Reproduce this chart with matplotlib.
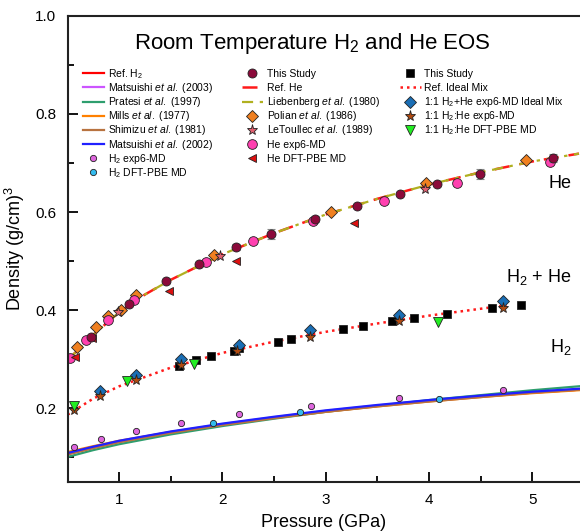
import numpy as np
import matplotlib
matplotlib.use("Agg")
import matplotlib.pyplot as plt
from matplotlib.legend import Legend

plt.rcParams['font.family'] = ['Liberation Sans', 'DejaVu Sans']
plt.rcParams['mathtext.fontset'] = 'custom'
plt.rcParams['mathtext.rm'] = 'Liberation Sans'
plt.rcParams['mathtext.it'] = 'Liberation Sans:italic'

# ---- H2 reference curves (pressure GPa, density g/cm^3) ----
p_line = [0.5, 0.75, 1.0, 1.5, 2.0, 2.5, 3.0, 3.5, 4.0, 4.5, 5.0, 5.45]
h2_ref = [0.107, 0.120, 0.132, 0.151, 0.167, 0.181, 0.194, 0.205, 0.215, 0.224, 0.232, 0.238]
h2_mats03 = [0.108, 0.121, 0.133, 0.152, 0.168, 0.182, 0.195, 0.206, 0.216, 0.225, 0.233, 0.239]
h2_pratesi = [0.101, 0.115, 0.127, 0.147, 0.164, 0.179, 0.193, 0.205, 0.217, 0.227, 0.237, 0.245]
h2_mills = [0.111, 0.123, 0.134, 0.152, 0.167, 0.181, 0.193, 0.204, 0.214, 0.223, 0.231, 0.237]
h2_shimizu = [0.106, 0.119, 0.131, 0.150, 0.166, 0.180, 0.193, 0.204, 0.214, 0.223, 0.232, 0.238]
h2_mats02 = [0.109, 0.122, 0.134, 0.153, 0.169, 0.183, 0.196, 0.207, 0.217, 0.226, 0.234, 0.240]

# ---- He reference curves ----
p_he = [0.5, 0.75, 1.0, 1.25, 1.5, 2.0, 2.5, 3.0, 3.5, 4.0, 4.5, 5.0, 5.45]
he_ref = [0.298, 0.350, 0.396, 0.432, 0.462, 0.514, 0.557, 0.595, 0.627, 0.656, 0.681, 0.703, 0.719]
he_lieb = [0.298, 0.350, 0.396, 0.432, 0.462, 0.514, 0.557, 0.595, 0.627, 0.656, 0.681, 0.703, 0.719]

# ---- ideal mix reference ----
p_mix = [0.5, 0.75, 1.0, 1.5, 2.0, 2.5, 3.0, 3.5, 4.0, 4.5, 4.75]
mix_ref = [0.187, 0.220, 0.245, 0.283, 0.313, 0.336, 0.356, 0.373, 0.389, 0.403, 0.410]

# ---- He data ----
he_study_p = [0.73, 1.10, 1.45, 1.77, 2.13, 2.47, 2.90, 3.30, 3.72, 4.08, 4.49, 5.20]
he_study_d = [0.346, 0.413, 0.460, 0.494, 0.528, 0.556, 0.586, 0.612, 0.636, 0.657, 0.678, 0.710]
he_study_err = [0.0, 0.0, 0.0, 0.0, 0.006, 0.010, 0.006, 0.004, 0.0, 0.0, 0.010, 0.008]
polian_p = [0.59, 0.78, 0.89, 1.02, 1.16, 1.92, 3.05, 3.97, 4.94]
polian_d = [0.325, 0.365, 0.388, 0.401, 0.431, 0.513, 0.600, 0.660, 0.706]
letoullec_p = [0.99, 1.98, 3.96]
letoullec_d = [0.396, 0.511, 0.646]
he_exp6_p = [0.52, 0.68, 0.89, 1.14, 1.84, 2.30, 2.88, 3.56, 4.27, 5.17]
he_exp6_d = [0.302, 0.340, 0.380, 0.421, 0.499, 0.540, 0.582, 0.622, 0.660, 0.701]
he_dft_p = [0.57, 0.74, 1.48, 2.13, 3.27]
he_dft_d = [0.304, 0.344, 0.440, 0.501, 0.578]

# ---- mixture data ----
mix_study_p = [1.58, 1.74, 1.89, 2.11, 2.16, 2.54, 2.66, 3.17, 3.36, 3.64, 3.85, 4.17, 4.61, 4.89]
mix_study_d = [0.287, 0.299, 0.306, 0.317, 0.323, 0.336, 0.342, 0.361, 0.367, 0.377, 0.384, 0.392, 0.404, 0.411]
mix_ideal_p = [0.81, 1.16, 1.60, 2.16, 2.85, 3.71, 4.71]
mix_ideal_d = [0.236, 0.268, 0.300, 0.329, 0.360, 0.390, 0.419]
mix_exp6_p = [0.56, 0.81, 1.16, 1.60, 2.14, 2.85, 3.71, 4.71]
mix_exp6_d = [0.197, 0.225, 0.257, 0.289, 0.317, 0.346, 0.377, 0.405]
mix_dft_p = [0.56, 1.08, 1.72, 4.09]
mix_dft_d = [0.204, 0.255, 0.290, 0.375]

# ---- H2 data ----
h2_exp6_p = [0.56, 0.82, 1.16, 1.60, 2.16, 2.86, 3.71, 4.71]
h2_exp6_d = [0.121, 0.137, 0.154, 0.171, 0.188, 0.204, 0.221, 0.238]
h2_dft_p = [1.91, 2.75, 4.10]
h2_dft_d = [0.171, 0.193, 0.219]

W, H = 580, 531
fig = plt.figure(figsize=(W / 100, H / 100), dpi=100)
ax = fig.add_axes([67.5 / W, 49 / H, 1 - 67.5 / W, (482 - 15.7) / H])

lw = 1.6
l_ref = ax.plot(p_line, h2_ref, color='#ff0000', lw=lw)[0]
l_m03 = ax.plot(p_line, h2_mats03, color='#cc55ff', lw=lw)[0]
l_pra = ax.plot(p_line, h2_pratesi, color='#2e9e6e', lw=lw)[0]
l_mil = ax.plot(p_line, h2_mills, color='#ff8000', lw=lw)[0]
l_shi = ax.plot(p_line, h2_shimizu, color='#b87340', lw=lw)[0]
l_m02 = ax.plot(p_line, h2_mats02, color='#2020ff', lw=lw)[0]

l_heref = ax.plot(p_he, he_ref, color='#ff1a1a', lw=1.8, dashes=(6, 4))[0]
l_lieb = ax.plot(p_he, he_lieb, color='#b0b020', lw=1.6, dashes=(5, 3, 1.5, 3))[0]
l_mix = ax.plot(p_mix, mix_ref, color='#ff1a1a', lw=1.8, ls=(0, (1, 1.6)))[0]

ek = dict(markeredgecolor='#222222', markeredgewidth=0.6, ls='none')
m_h2e = ax.plot(h2_exp6_p, h2_exp6_d, marker='o', ms=4.5, color='#dd66dd', **ek)[0]
m_h2d = ax.plot(h2_dft_p, h2_dft_d, marker='o', ms=4.5, color='#33bbee', **ek)[0]

m_pol = ax.plot(polian_p, polian_d, marker='D', ms=6, color='#f08020', **ek)[0]
m_let = ax.plot(letoullec_p, letoullec_d, marker='*', ms=8, color='#e06070', **ek)[0]
m_hee = ax.plot(he_exp6_p, he_exp6_d, marker='o', ms=7, color='#ff40b0', **ek)[0]
m_hed = ax.plot(he_dft_p, he_dft_d, marker='<', ms=6, color='#dd1010', **ek)[0]
ax.errorbar(he_study_p, he_study_d, yerr=he_study_err, fmt='none', ecolor='#888888',
            elinewidth=0.8, capsize=3, capthick=0.8)
m_hes = ax.plot(he_study_p, he_study_d, marker='o', ms=6.5, color='#8b0a3a', **ek)[0]

m_mxs = ax.plot(mix_study_p, mix_study_d, marker='s', ms=5.5, color='#000000', **ek)[0]
m_mxi = ax.plot(mix_ideal_p, mix_ideal_d, marker='D', ms=6, color='#1a6eb5', **ek)[0]
m_mxe = ax.plot(mix_exp6_p, mix_exp6_d, marker='*', ms=8, color='#b04a10', **ek)[0]
m_mxd = ax.plot(mix_dft_p, mix_dft_d, marker='v', ms=7, color='#22ee22', **ek)[0]

ax.set_xlim(0.5, 5.46)
ax.set_ylim(0.05, 1.0)
ax.set_xticks([1, 2, 3, 4, 5])
ax.set_xticks([1.5, 2.5, 3.5, 4.5], minor=True)
ax.set_yticks([0.2, 0.4, 0.6, 0.8, 1.0])
ax.set_yticks([0.1, 0.3, 0.5, 0.7, 0.9], minor=True)
ax.yaxis.set_major_formatter(matplotlib.ticker.FormatStrFormatter('%.1f'))
ax.tick_params(which='major', direction='in', length=7, width=1.3, labelsize=11, pad=8)
ax.tick_params(which='minor', direction='in', length=4, width=1.3)
ax.spines['right'].set_visible(False)
for s in ['left', 'bottom', 'top']:
    ax.spines[s].set_linewidth(1.5)
    ax.spines[s].set_color('#222222')

ax.set_xlabel('Pressure (GPa)', fontsize=13, labelpad=5)
ax.set_ylabel('Density (g/cm)$^3$', fontsize=13, labelpad=6)

fig.text(312 / W, 1 - 43 / H, 'Room Temperature H$_2$ and He EOS', fontsize=16,
         ha='center', va='center')

ax.text(5.38, 0.658, 'He', fontsize=13, ha='right', va='center')
ax.text(5.38, 0.468, 'H$_2$ + He', fontsize=13, ha='right', va='center')
ax.text(5.38, 0.326, 'H$_2$', fontsize=13, ha='right', va='center')


def legend_column(handles, labels, x0, y0, pad=0.4, step=14.1):
    # one legend per entry so every row gets the same spacing
    for i, (h, lab) in enumerate(zip(handles, labels)):
        lg = Legend(ax, [h], [lab], loc='center left', frameon=False, fontsize=7.5,
                    borderpad=0, borderaxespad=0, handletextpad=pad, handlelength=2.0,
                    bbox_to_anchor=(x0 / W, 1 - (y0 + i * step) / H),
                    bbox_transform=fig.transFigure)
        ax.add_artist(lg)


et = r'$\mathit{et\ al.}$'
legend_column([l_ref, l_m03, l_pra, l_mil, l_shi, l_m02, m_h2e, m_h2d],
              ['Ref. H$_2$', 'Matsuishi ' + et + ' (2003)', 'Pratesi ' + et + ' (1997)',
               'Mills ' + et + ' (1977)', 'Shimizu ' + et + ' (1981)',
               'Matsuishi ' + et + ' (2002)', 'H$_2$ exp6-MD', 'H$_2$ DFT-PBE MD'],
              83, 74)
legend_column([m_hes, l_heref, l_lieb, m_pol, m_let, m_hee, m_hed],
              ['This Study', 'Ref. He', 'Liebenberg ' + et + ' (1980)', 'Polian ' + et + ' (1986)',
               'LeToullec ' + et + ' (1989)', 'He exp6-MD', 'He DFT-PBE MD'],
              242, 74)
legend_column([m_mxs, l_mix, m_mxi, m_mxe, m_mxd],
              ['This Study', 'Ref. Ideal Mix', '1:1 H$_2$+He exp6-MD Ideal Mix',
               '1:1 H$_2$:He exp6-MD', '1:1 H$_2$:He DFT-PBE MD'],
              400, 74, pad=0.3)

fig.savefig('out.png', dpi=100)
